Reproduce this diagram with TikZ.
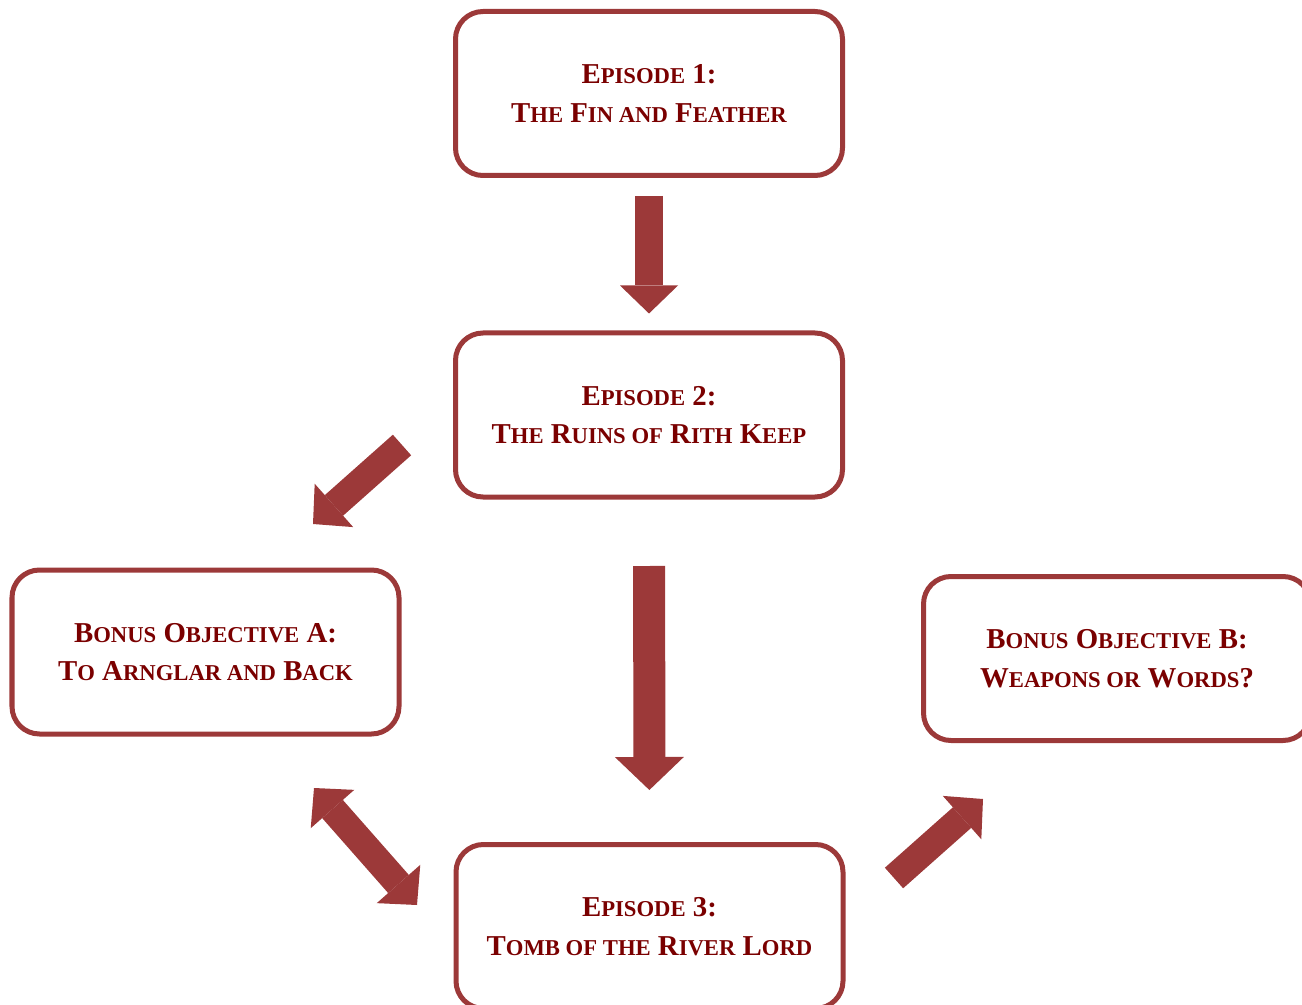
\documentclass[tikz,border=0pt]{standalone}
\usepackage{fontspec}
\setmainfont{Liberation Serif}
\usepackage{tikz}
\usetikzlibrary{calc,arrows.meta}

\definecolor{boxred}{RGB}{156,57,57}
\definecolor{textred}{RGB}{122,0,0}

% fake small caps
\newcommand{\smc}[1]{{\fontsize{12.9pt}{22pt}\selectfont\MakeUppercase{#1}}}

\begin{document}
\begin{tikzpicture}[
        episode/.style={draw=boxred, line width=0.1cm, rounded corners=0.55cm, minimum width=7.74cm, minimum height=3.28cm, align=center, text=textred, font=\fontsize{16.4pt}{22pt}\selectfont\bfseries},
        fatarrow/.style={draw=boxred, line width=0.55cm, -{Triangle[width=1.16cm,length=0.56cm,line width=0pt]}},
        bigarrow/.style={draw=boxred, line width=0.64cm, -{Triangle[width=1.38cm,length=0.66cm,line width=0pt]}},
        twoway/.style={draw=boxred, line width=0.55cm, {Triangle[width=1.16cm,length=0.56cm,line width=0pt]}-{Triangle[width=1.16cm,length=0.56cm,line width=0pt]}}
    ]
        \useasboundingbox (0,0) rectangle (26.04,-20.10);

        % Episodes
        \node[episode] (Ep1) at (12.98,-1.87) {E\smc{pisode} 1:\\T\smc{he} F\smc{in and} F\smc{eather}};
        \node[episode] (Ep2) at (12.98,-8.30) {E\smc{pisode} 2:\\T\smc{he} R\smc{uins of} R\smc{ith} K\smc{eep}};
        \node[episode] (Ep3) at (12.99,-18.53) {E\smc{pisode} 3:\\T\smc{omb of the} R\smc{iver} L\smc{ord}};

        % Bonus objectives
        \node[episode] (BonusA) at (4.11,-13.04) {B\smc{onus} O\smc{bjective} A:\\T\smc{o} A\smc{rnglar and} B\smc{ack}};
        \node[episode] (BonusB) at (22.34,-13.17) {B\smc{onus} O\smc{bjective} B:\\W\smc{eapons or} W\smc{ords}?};

        % Main line
        \draw[fatarrow, shorten <=0.36cm, shorten >=0.34cm] (Ep1) -- (Ep2);
        \draw[bigarrow, shorten <=1.33cm, shorten >=1.04cm] (Ep2) -- (Ep3);

        % Side trips
        \draw[fatarrow] ($(Ep2.west)+(-1.02,-0.60)$) -- ($(BonusA.north east)+(-1.77,0.87)$);
        \draw[twoway] ($(BonusA.south east)+(-1.75,-1.03)$) -- ($(Ep3.west)+(-0.73,0.43)$);
        \draw[fatarrow] ($(Ep3.east)+(0.97,0.97)$) -- ($(BonusB.south west)+(1.24,-1.12)$);
\end{tikzpicture}
\end{document}
